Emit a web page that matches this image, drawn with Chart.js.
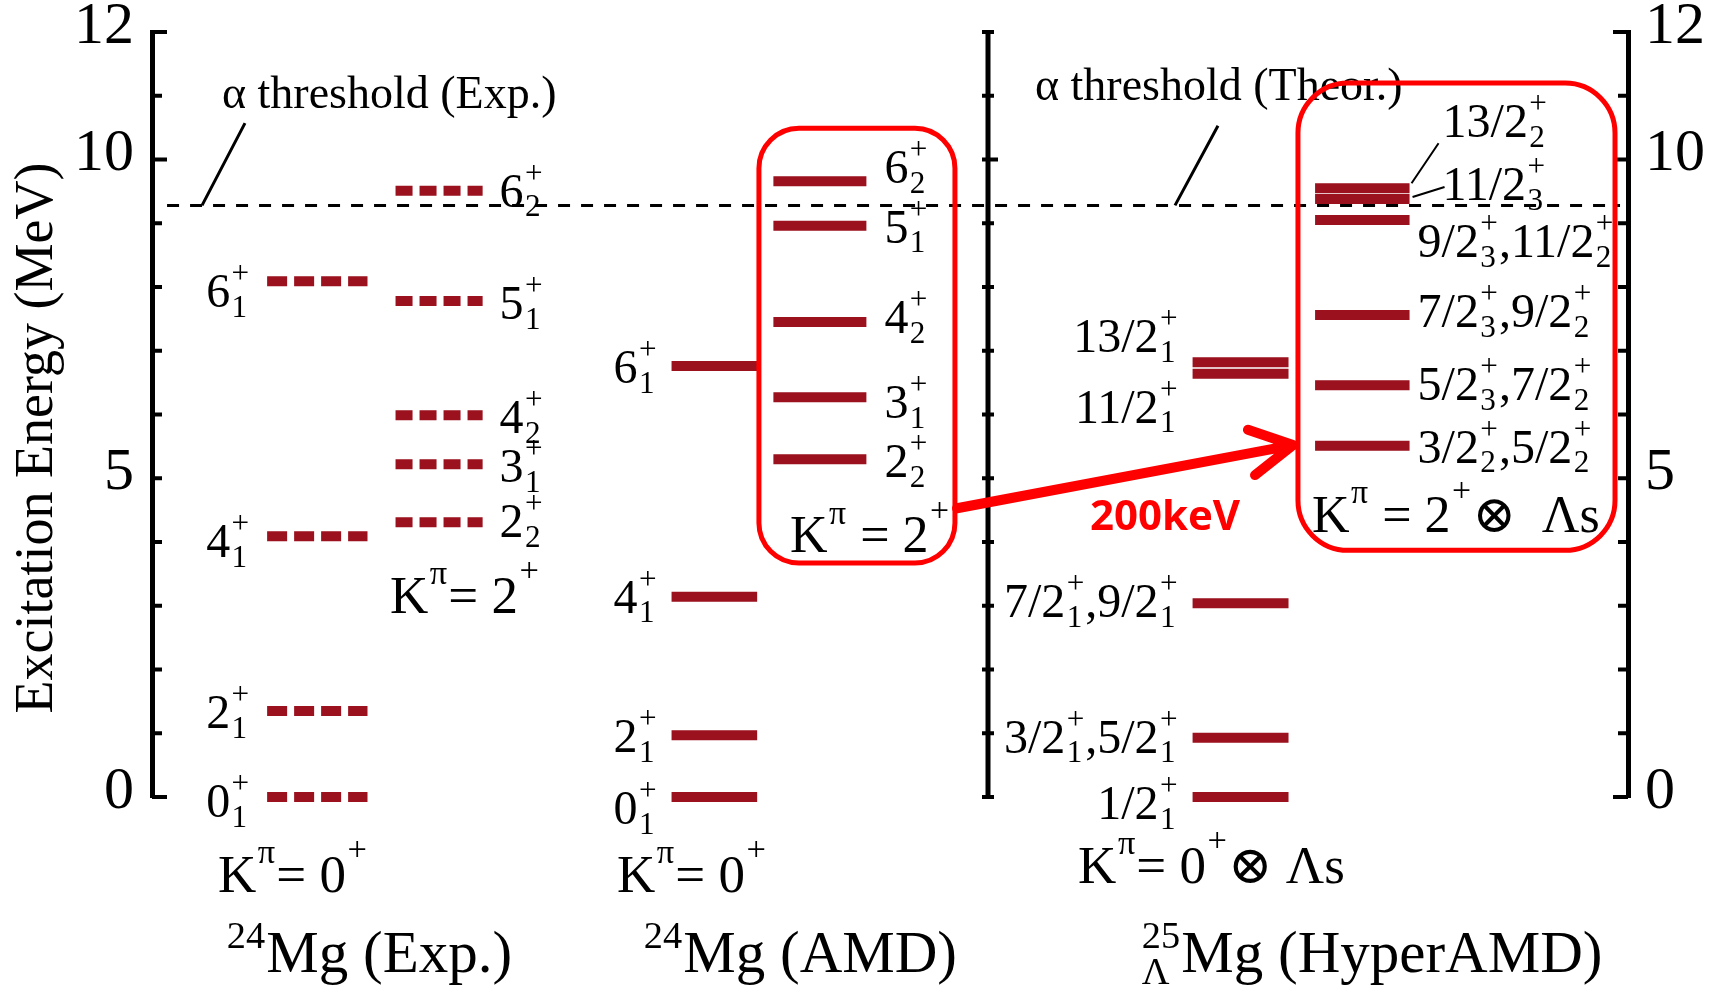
<!DOCTYPE html>
<html lang="en">
<head>
<meta charset="UTF-8">
<title>24Mg / 25ΛMg level scheme</title>
<script src="https://cdn.jsdelivr.net/npm/chart.js"></script>
<style>
  html, body { margin: 0; padding: 0; background: #fff; }
  #wrap { width: 1709px; height: 988px; }
</style>
</head>
<body>
<div id="wrap"><canvas id="levels"></canvas></div>
<script>
// excitation energies (MeV)
const expGround = [0, 1.35, 4.09, 8.09];
const expGroundSpins = [[['0', '1']], [['2', '1']], [['4', '1']], [['6', '1']]];
const expGamma = [4.31, 5.22, 5.99, 7.78, 9.51];
const expGammaSpins = [[['2', '2']], [['3', '1']], [['4', '2']], [['5', '1']], [['6', '2']]];

const amdGround = [0, 0.97, 3.14, 6.76];
const amdGroundSpins = [[['0', '1']], [['2', '1']], [['4', '1']], [['6', '1']]];
const amdGamma = [5.30, 6.27, 7.45, 8.96, 9.66];
const amdGammaSpins = [[['2', '2']], [['3', '1']], [['4', '2']], [['5', '1']], [['6', '2']]];

const hypGround = [0, 0.93, 3.04, 6.64, 6.82];
const hypGroundSpins = [
  [['1/2', '1']], [['3/2', '1'], ['5/2', '1']], [['7/2', '1'], ['9/2', '1']],
  [['11/2', '1']], [['13/2', '1']]
];
const hypGamma = [5.51, 6.46, 7.56, 9.05, 9.38, 9.55];
const hypGammaSpins = [
  [['3/2', '2'], ['5/2', '2']], [['5/2', '3'], ['7/2', '2']], [['7/2', '3'], ['9/2', '2']],
  [['9/2', '3'], ['11/2', '2']], [['11/2', '3']], [['13/2', '2']]
];

const alphaThreshold = 9.28;
const yTicks = [0, 5, 10, 12];

// layout (hidden x scale runs 0..100 across the plot)
const cols = {
  expG: [7.8, 14.6], expK: [16.5, 22.4],
  amdG: [35.2, 41.0], amdK: [42.1, 48.4],
  hypG: [70.5, 77.0], hypK: [78.8, 85.2]
};
const midAxis = 56.64;
const thrSpan = [1.02, 99.46];
// baseline of each level label, px below the level
const expGroundDy = [20, 17, 21, 26];
const expGammaDy = [15, 18, 18, 18, 16];
const amdGroundDy = [27, 17, 16, 17];
const amdGammaDy = [18, 21, 11, 17, 2];
const hypGroundDy = [22, 15, 14, 49, -10];
const hypGammaDy = [17, 15, 12, 37, 1, -51];

const red = '#9b111e';
const serif = '"Liberation Serif", "DejaVu Serif", serif';
const f = (s, w) => (w ? w + ' ' : '') + s + 'px ' + serif;

function levelData(energies, span) {
  const pts = [];
  energies.forEach(e => {
    pts.push({x: span[0], y: e}, {x: span[1], y: e}, {x: span[1], y: null});
  });
  return pts;
}

function spinSegs(parts) {
  const segs = [];
  parts.forEach((p, i) => {
    if (i > 0) segs.push(',');
    segs.push(p[0], {sup: '+', sub: p[1]});
  });
  return segs;
}

function segWidth(ctx, s, size) {
  if (typeof s === 'string') { ctx.font = f(size); return ctx.measureText(s).width; }
  ctx.font = f(size * 0.65);
  const a = s.sup ? ctx.measureText(s.sup).width : 0;
  const b = s.sub ? ctx.measureText(s.sub).width : 0;
  return Math.max(a, b) + size * 0.05;
}

function drawRich(ctx, segs, x, y, size, align) {
  let total = 0;
  segs.forEach(s => { total += segWidth(ctx, s, size); });
  let cx = align === 'right' ? x - total : align === 'center' ? x - total / 2 : x;
  ctx.textAlign = 'left';
  ctx.textBaseline = 'alphabetic';
  segs.forEach(s => {
    const w = segWidth(ctx, s, size);
    if (typeof s === 'string') {
      ctx.font = f(size);
      ctx.fillText(s, cx, y);
    } else {
      ctx.font = f(size * 0.65);
      if (s.sup) ctx.fillText(s.sup, cx + size * 0.03, y - size * (s.rise || 0.5));
      if (s.sub) ctx.fillText(s.sub, cx + size * 0.03, y + size * 0.2);
    }
    cx += w;
  });
}

const schemePlugin = {
  id: 'scheme',
  afterDatasetsDraw(chart) {
    const ctx = chart.ctx;
    const xs = chart.scales.x, ys = chart.scales.y;
    const X = u => xs.getPixelForValue(u);
    const Y = e => ys.getPixelForValue(e);
    ctx.save();
    ctx.fillStyle = '#000';
    ctx.strokeStyle = '#000';

    // tick marks: left and right inward, middle axis crossing
    const left = chart.chartArea.left, right = chart.chartArea.right, mid = X(midAxis);
    ctx.lineWidth = 4;
    for (let v = 0; v <= 12; v++) {
      const y = Y(v);
      const big = v === 0 || v === 10 || v === 12;
      ctx.beginPath();
      ctx.moveTo(left, y); ctx.lineTo(left + (big ? 15 : 10), y);
      ctx.moveTo(right, y); ctx.lineTo(right - (big ? 15 : 10), y);
      ctx.moveTo(mid - 6, y); ctx.lineTo(mid + (v === 10 ? 10 : 6), y);
      ctx.stroke();
    }
    ctx.lineWidth = 5;
    ctx.beginPath();
    ctx.moveTo(mid, Y(0) + 2); ctx.lineTo(mid, Y(12) - 2);
    ctx.stroke();

    // alpha threshold labels
    ctx.lineWidth = 3;
    ctx.beginPath();
    ctx.moveTo(X(3.39), Y(alphaThreshold)); ctx.lineTo(X(6.30), Y(10.57));
    ctx.moveTo(X(69.31), Y(alphaThreshold)); ctx.lineTo(X(72.22), Y(10.53));
    ctx.stroke();
    ctx.font = f(46);
    ctx.textAlign = 'left';
    ctx.textBaseline = 'alphabetic';
    ctx.fillText('α threshold (Exp.)', X(4.74), Y(10.81));
    ctx.fillText('α threshold (Theor.)', X(59.82), Y(10.93));

    // level labels
    const lab = (energies, spins, dys, span, side, gap) => {
      energies.forEach((e, i) => {
        const x = side === 'left' ? X(span[0]) - gap : X(span[1]) + gap;
        drawRich(ctx, spinSegs(spins[i]), x, Y(e) + dys[i], 48, side === 'left' ? 'right' : 'left');
      });
    };
    lab(expGround, expGroundSpins, expGroundDy, cols.expG, 'left', 17);
    lab(expGamma, expGammaSpins, expGammaDy, cols.expK, 'right', 17);
    lab(amdGround, amdGroundSpins, amdGroundDy, cols.amdG, 'left', 14);
    lab(amdGamma, amdGammaSpins, amdGammaDy, cols.amdK, 'right', 18);
    lab(hypGround, hypGroundSpins, hypGroundDy, cols.hypG, 'left', 14);
    lab(hypGamma.slice(0, 4), hypGammaSpins, hypGammaDy, cols.hypK, 'right', 8);
    // the two top K=2 hyper levels carry leader lines
    const hx = X(cols.hypK[1]);
    [4, 5].forEach(i => {
      const y = Y(hypGamma[i]);
      drawRich(ctx, spinSegs(hypGammaSpins[i]), hx + 33, y + hypGammaDy[i], 48, 'left');
    });
    ctx.lineWidth = 2;
    ctx.beginPath();
    ctx.moveTo(hx + 2, Y(hypGamma[5]) - 5); ctx.lineTo(hx + 29, Y(hypGamma[5]) - 45);
    ctx.moveTo(hx + 3, Y(hypGamma[4]) - 2); ctx.lineTo(hx + 35, Y(hypGamma[4]) - 12);
    ctx.stroke();

    // band labels
    const K = (spin, tail) => ['K', {sup: 'π', rise: 0.55}, spin[0], {sup: '+', rise: 0.6}].concat(tail || []);
    drawRich(ctx, K(['= 0']), X(4.47), Y(-1.49), 53, 'left');
    drawRich(ctx, K(['= 2']), X(16.12), Y(2.89), 53, 'left');
    drawRich(ctx, K(['= 0']), X(31.5), Y(-1.49), 53, 'left');
    drawRich(ctx, K([' = 2']), X(43.22), Y(3.84), 52, 'left');
    drawRich(ctx, K(['= 0'], ['⊗ Λs']), X(62.74), Y(-1.35), 53, 'left');
    drawRich(ctx, K([' = 2'], ['⊗  Λs']), X(78.59), Y(4.16), 52, 'left');

    // nucleus titles
    drawRich(ctx, [{sup: '24', rise: 0.4}, 'Mg (Exp.)'], X(4.95), Y(-2.745), 59, 'left');
    drawRich(ctx, [{sup: '24', rise: 0.4}, 'Mg (AMD)'], X(33.2), Y(-2.745), 59, 'left');
    drawRich(ctx, [{sup: '25', sub: 'Λ', rise: 0.4}, 'Mg (HyperAMD)'], X(66.94), Y(-2.745), 59, 'left');

    // y title
    ctx.save();
    ctx.translate(52, 438);
    ctx.rotate(-Math.PI / 2);
    ctx.font = f(54);
    ctx.textAlign = 'center';
    ctx.fillText('Excitation Energy (MeV)', 0, 0);
    ctx.restore();

    // red boxes and arrow
    ctx.strokeStyle = '#ff0000';
    ctx.lineWidth = 5;
    ctx.beginPath();
    ctx.roundRect(X(41.12), Y(10.49), X(54.40) - X(41.12), Y(3.67) - Y(10.49), 40);
    ctx.stroke();
    ctx.beginPath();
    ctx.roundRect(X(77.64), Y(11.20), X(99.12) - X(77.64), Y(3.87) - Y(11.20), 50);
    ctx.stroke();
    ctx.lineWidth = 10;
    ctx.lineCap = 'round';
    ctx.lineJoin = 'round';
    ctx.beginPath();
    ctx.moveTo(X(54.54), Y(4.53)); ctx.lineTo(X(77.3), Y(5.52));
    ctx.moveTo(X(74.25), Y(5.76)); ctx.lineTo(X(77.3), Y(5.52)); ctx.lineTo(X(74.73), Y(5.05));
    ctx.stroke();
    ctx.fillStyle = '#ff0000';
    ctx.font = 'bold 42px "Open Sans", "Noto Sans", sans-serif';
    ctx.textAlign = 'center';
    ctx.fillText('200keV', X(68.63), Y(4.19));
    ctx.restore();
  }
};

const axisY = (pos, width) => ({
  type: 'linear',
  position: pos,
  min: 0,
  max: 12,
  grid: {display: false, drawTicks: false},
  border: {display: true, width: 5, color: '#000'},
  ticks: {
    stepSize: 1,
    autoSkip: false,
    padding: pos === 'left' ? 18 : 17,
    labelOffset: -5,
    color: '#000',
    font: {family: serif, size: 60},
    callback: v => yTicks.includes(v) ? String(v) : ''
  },
  afterFit: s => { s.width = width; s.paddingTop = 0; s.paddingBottom = 0; }
});

const lvl = (data, dash) => ({data, borderColor: red, borderWidth: 10, borderDash: dash || [], clip: false});

new Chart(document.getElementById('levels'), {
  type: 'line',
  data: {
    datasets: [
      lvl(levelData(expGround, cols.expG), [20, 7]),
      lvl(levelData(expGamma, cols.expK), [17, 7]),
      lvl(levelData(amdGround, cols.amdG)),
      lvl(levelData(amdGamma, cols.amdK)),
      lvl(levelData(hypGround, cols.hypG)),
      lvl(levelData(hypGamma, cols.hypK)),
      {data: [{x: thrSpan[0], y: alphaThreshold}, {x: thrSpan[1], y: alphaThreshold}],
       borderColor: '#000', borderWidth: 3, borderDash: [12, 11], clip: false}
    ]
  },
  options: {
    responsive: true,
    maintainAspectRatio: false,
    animation: false,
    devicePixelRatio: 1,
    layout: {padding: {top: 32, bottom: 191, left: 0, right: 0}},
    elements: {point: {radius: 0}, line: {tension: 0, borderCapStyle: 'butt'}},
    plugins: {legend: {display: false}, tooltip: {enabled: false}},
    scales: {
      x: {type: 'linear', min: 0, max: 100, display: false},
      y: axisY('left', 152),
      y2: axisY('right', 81)
    }
  },
  plugins: [schemePlugin]
});
</script>
</body>
</html>
